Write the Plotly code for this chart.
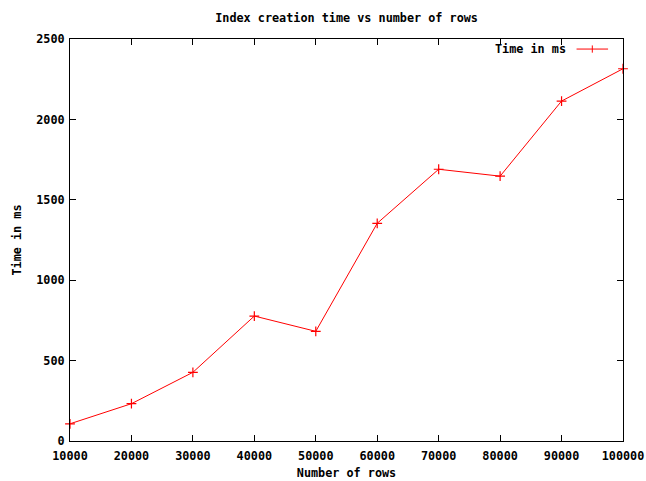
import plotly.graph_objects as go

rows = [10000, 20000, 30000, 40000, 50000, 60000, 70000, 80000, 90000, 100000]
time_ms = [107, 232, 427, 777, 682, 1354, 1690, 1647, 2114, 2315]
x_ticks = [10000, 20000, 30000, 40000, 50000, 60000, 70000, 80000, 90000, 100000]
y_ticks = [0, 500, 1000, 1500, 2000, 2500]

FONT = "DejaVu Sans Mono"
RED = "#ff0000"
FS = 11.8

fig = go.Figure()
fig.add_trace(go.Scatter(
    x=rows, y=time_ms, mode="lines+markers", name="Time in ms",
    line=dict(color=RED, width=1),
    marker=dict(symbol="cross-thin", size=7, line=dict(color=RED, width=1.2)),
    cliponaxis=False, showlegend=False,
))

axis_common = dict(
    showgrid=False, zeroline=False, showline=True, linecolor="black", linewidth=1,
    mirror="ticks", ticks="inside", ticklen=6, tickcolor="black", tickwidth=1,
    automargin=False,
    tickfont=dict(family=FONT, size=FS, color="black", weight="bold"),
)

fig.update_layout(
    template="none",
    width=646, height=481,
    margin=dict(l=70, r=23, t=39, b=40, autoexpand=False),
    paper_bgcolor="white", plot_bgcolor="white",
    font=dict(family=FONT, size=FS, color="black", weight="bold"),
    title=dict(text="Index creation time vs number of rows", x=0.5365,
               xanchor="center", y=1 - 18 / 481, yanchor="middle",
               font=dict(family=FONT, size=FS, color="black", weight="bold")),
    xaxis=dict(range=[10000, 100000], tickvals=x_ticks, ticktext=[str(v) for v in x_ticks],
               ticklabelstandoff=4,
               title=dict(text="Number of rows", standoff=6,
                          font=dict(family=FONT, size=FS, color="black", weight="bold")),
               **axis_common),
    yaxis=dict(range=[0, 2500], tickvals=y_ticks, ticktext=[str(v) for v in y_ticks],
               ticklabelstandoff=2,
               title=dict(text="Time in ms", standoff=12,
                          font=dict(family=FONT, size=FS, color="black", weight="bold")),
               **axis_common),
)

# gnuplot-style key: text, then a sample line with marker on the right
fig.add_annotation(xref="paper", yref="paper", x=0.900, y=0.975, xanchor="right", yanchor="middle",
                   text="Time in ms", showarrow=False,
                   font=dict(family=FONT, size=FS, color="black", weight="bold"))
fig.add_shape(type="line", xref="paper", yref="paper", x0=0.916, x1=0.973, y0=0.975, y1=0.975,
              line=dict(color=RED, width=1))
fig.add_shape(type="line", xref="paper", yref="paper", x0=0.9445, x1=0.9445, y0=0.966, y1=0.984,
              line=dict(color=RED, width=1))

fig.write_html("out.html", config={"displayModeBar": False},
               post_script="document.body.style.margin='0';document.body.style.overflow='hidden';")
